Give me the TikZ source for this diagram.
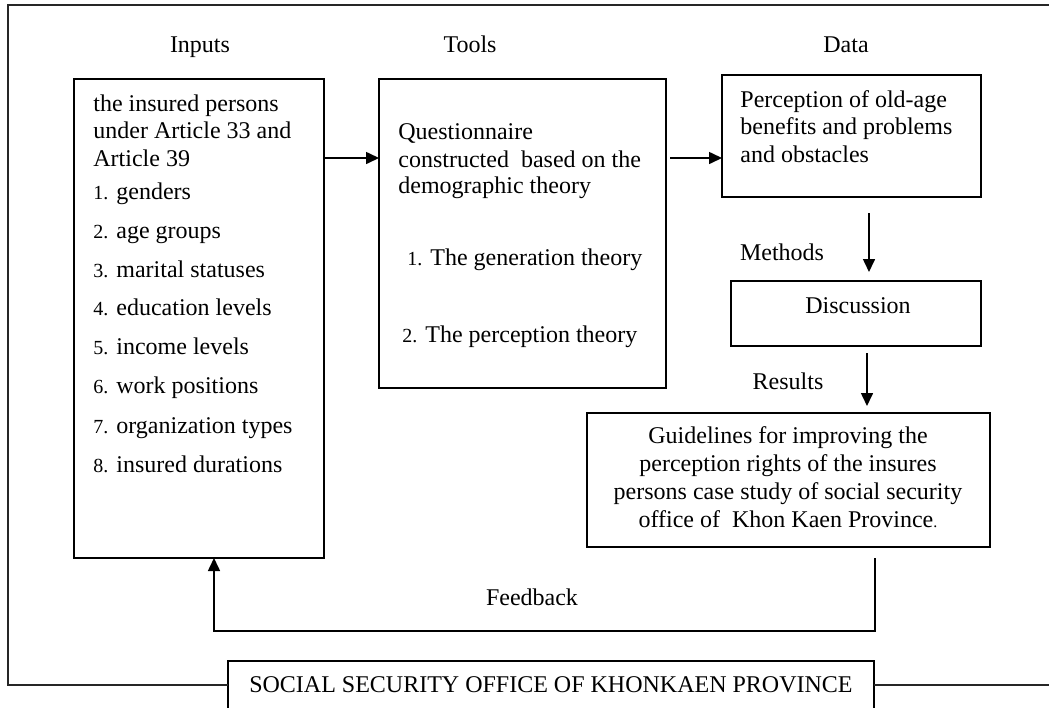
\documentclass[tikz,border=0pt]{standalone}
\usepackage{fontspec}
\setmainfont{Liberation Serif}
\usetikzlibrary{arrows.meta}

% small numbers in front of the list items
\newcommand{\itemno}[1]{{\fontsize{10}{12}\selectfont #1}}

\tikzset{
  box/.style={draw, line width=0.8pt, inner sep=0pt, outer sep=0pt},
  txt/.style={anchor=base west, inner sep=0pt, font=\fontsize{12}{14}\selectfont},
  lbl/.style={anchor=base, inner sep=0pt, font=\fontsize{12}{14}\selectfont},
  flow/.style={line width=0.8pt, -{Triangle[length=6.5pt, width=6pt]}},
  frameline/.style={line width=0.6pt, black!85}
}

\begin{document}
\begin{tikzpicture}[x=0.5pt, y=-0.5pt]
\useasboundingbox (0,0) rectangle (1049,707);
\clip (0,0) rectangle (1049,707);

% Draw the boxes
\node[box, minimum width=125pt, minimum height=239.5pt] (inputs) at (199,318.5) {};
\node[box, minimum width=143.5pt, minimum height=154.5pt] (tools) at (522.5,233.5) {};
\node[box, minimum width=129.5pt, minimum height=61pt] (data) at (851.5,136) {};
\node[box, minimum width=125pt, minimum height=32.5pt] (disc) at (856,313.5) {};
\node[box, minimum width=201.5pt, minimum height=67pt] (guide) at (788.5,480) {};
\node[box, minimum width=323pt, minimum height=34.5pt] (office) at (551,695.5) {};

% Column titles
\node[lbl] (inputsttl) at (200,52) {Inputs};
\node[lbl] (toolsttl) at (470,52) {Tools};
\node[lbl] (datattl) at (846,52) {Data};

% Inputs text
\node[txt] (in1) at (93,111) {the insured persons};
\node[txt] (in2) at (93,138) {under Article 33 and};
\node[txt] (in3) at (93,166) {Article 39};
\node[txt] (in4) at (93,199) {\itemno{1.} genders};
\node[txt] (in5) at (93,238) {\itemno{2.} age groups};
\node[txt] (in6) at (93,277) {\itemno{3.} marital statuses};
\node[txt] (in7) at (93,315) {\itemno{4.} education levels};
\node[txt] (in8) at (93,354) {\itemno{5.} income levels};
\node[txt] (in9) at (93,393) {\itemno{6.} work positions};
\node[txt] (in10) at (93,433) {\itemno{7.} organization types};
\node[txt] (in11) at (93,472) {\itemno{8.} insured durations};

% Tools text
\node[txt] (tl1) at (398,139) {Questionnaire};
\node[txt] (tl2) at (398,167) {constructed\ \ based on the};
\node[txt] (tl3) at (398,193) {demographic theory};
\node[txt] (tl4) at (407,265) {\itemno{1.} The generation theory};
\node[txt] (tl5) at (402,342) {\itemno{2.} The perception theory};

% Data text
\node[txt] (dt1) at (740,107) {Perception of old-age};
\node[txt] (dt2) at (740,134) {benefits and problems};
\node[txt] (dt3) at (740,162) {and obstacles};

% Discussion and guidelines
\node[lbl] (disctxt) at (858,313) {Discussion};
\node[lbl] (gd1) at (788,443) {Guidelines for improving the};
\node[lbl] (gd2) at (788,471) {perception rights of the insures};
\node[lbl] (gd3) at (788,499) {persons case study of social security};
\node[lbl] (gd4) at (788,527) {office of\ \ Khon Kaen Province{\fontsize{8}{9}\selectfont .}};

% Arrow labels
\node[lbl] (methods) at (782,260) {Methods};
\node[lbl] (results) at (788,389) {Results};
\node[lbl] (feedback) at (532,605) {Feedback};
\node[lbl] (officetxt) at (551,692) {SOCIAL SECURITY OFFICE OF KHONKAEN PROVINCE};

% Arrows
\draw[flow] (inputs.east |- 0,158) -- (tools.west |- 0,158);
\draw[flow, shorten <=2pt] (tools.east |- 0,158) -- (data.west |- 0,158);
\draw[flow, shorten <=8pt, shorten >=4.5pt] (data.south -| 869,0) -- (disc.north -| 869,0);
\draw[flow, shorten <=3.5pt, shorten >=3.5pt] (disc.south -| 867,0) -- (guide.north -| 867,0);
\coordinate (fbturn) at (875,631);
\draw[flow, shorten <=5.5pt] (guide.south -| fbturn) -- (fbturn) -| (inputs.south -| 214,0);

% Outer frame
\draw[frameline] (office.west |- 0,685) -- (8,685) -- (8,5) -- (1060,5);
\draw[frameline] (office.east |- 0,685) -- (1060,685);
\end{tikzpicture}
\end{document}
